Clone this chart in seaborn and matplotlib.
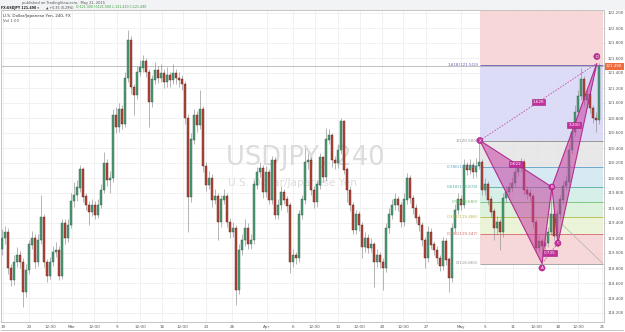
import matplotlib
matplotlib.use("Agg")
import matplotlib.pyplot as plt
import seaborn as sns
import numpy as np
import pandas as pd
from matplotlib.patches import Polygon

sns.set_theme(style="white")
plt.rcParams['font.family'] = ['DejaVu Sans']

# ---------------- data (USDJPY 240-minute candles) ----------------
opens = [119.05, 119.20, 119.28, 118.80, 118.64, 118.88, 118.97, 118.88, 118.48, 118.77,
         119.11, 119.20, 118.88, 119.17, 119.47, 118.88, 118.69, 118.88, 119.01, 119.04,
         118.69, 119.39, 119.20, 119.37, 119.69, 119.77, 119.87, 120.11, 119.75, 119.64,
         119.55, 119.64, 119.51, 119.64, 119.84, 120.20, 119.97, 120.00, 120.84, 120.68,
         120.91, 120.72, 121.33, 121.84, 121.21, 121.11, 121.41, 121.47, 121.55, 121.41,
         121.01, 121.31, 121.44, 121.33, 121.40, 121.28, 121.37, 121.31, 121.39, 121.33,
         121.31, 121.25, 120.80, 119.75, 120.51, 120.84, 120.71, 120.91, 120.16, 119.91,
         120.00, 119.71, 119.76, 119.41, 119.71, 119.75, 119.41, 119.28, 119.33, 118.51,
         119.04, 119.17, 119.33, 119.12, 119.17, 119.91, 120.08, 120.13, 119.81, 120.08,
         119.71, 120.24, 119.51, 119.64, 119.81, 119.71, 119.63, 118.88, 118.97, 118.93,
         119.51, 119.71, 120.21, 120.24, 119.84, 119.68, 119.91, 120.27, 120.01, 120.51,
         120.57, 120.24, 120.20, 120.37, 120.75, 120.11, 119.84, 119.64, 119.31, 119.51,
         119.37, 119.08, 119.20, 119.07, 119.11, 118.88, 118.97, 118.88, 118.80, 119.33,
         119.51, 119.64, 119.71, 119.64, 119.41, 119.71, 120.00, 119.73, 119.60, 119.47,
         119.37, 119.17, 118.93, 119.28, 119.11, 119.04, 118.93, 118.83, 119.15, 118.91,
         118.67, 119.33, 119.57, 119.71, 119.64, 120.17, 120.11, 120.17, 120.08, 120.16,
         120.21, 119.84, 119.91, 119.71, 119.55, 119.33, 119.41, 119.28, 119.73, 119.81,
         119.87, 119.93, 120.08, 120.13, 120.21, 119.84, 119.79, 119.76, 119.41, 119.07,
         119.15, 119.09, 119.13, 119.28, 119.51, 119.23, 119.52, 119.71, 119.89, 119.95,
         120.37, 120.61, 120.88, 121.09, 121.31, 121.04, 121.12, 120.93, 120.80, 120.77]
closes = [119.20, 119.28, 118.80, 118.64, 118.88, 118.97, 118.88, 118.48, 118.77, 119.11,
          119.20, 118.88, 119.17, 119.47, 118.88, 118.69, 118.88, 119.01, 119.04, 118.69,
          119.39, 119.20, 119.37, 119.69, 119.77, 119.87, 120.11, 119.75, 119.64, 119.55,
          119.64, 119.51, 119.64, 119.84, 120.20, 119.97, 120.00, 120.84, 120.68, 120.91,
          120.72, 121.33, 121.84, 121.21, 121.11, 121.41, 121.47, 121.55, 121.41, 121.01,
          121.31, 121.44, 121.33, 121.40, 121.28, 121.37, 121.31, 121.39, 121.33, 121.31,
          121.25, 120.80, 119.75, 120.51, 120.84, 120.71, 120.91, 120.16, 119.91, 120.00,
          119.71, 119.76, 119.41, 119.71, 119.75, 119.41, 119.28, 119.33, 118.51, 119.04,
          119.17, 119.33, 119.12, 119.17, 119.91, 120.08, 120.13, 119.81, 120.08, 119.71,
          120.24, 119.51, 119.64, 119.81, 119.71, 119.63, 118.88, 118.97, 118.93, 119.51,
          119.71, 120.21, 120.24, 119.84, 119.68, 119.91, 120.27, 120.01, 120.51, 120.57,
          120.24, 120.20, 120.37, 120.75, 120.11, 119.84, 119.64, 119.31, 119.51, 119.37,
          119.08, 119.20, 119.07, 119.11, 118.88, 118.97, 118.88, 118.80, 119.33, 119.51,
          119.64, 119.71, 119.64, 119.41, 119.71, 120.00, 119.73, 119.60, 119.47, 119.37,
          119.17, 118.93, 119.28, 119.11, 119.04, 118.93, 118.83, 119.15, 118.91, 118.67,
          119.33, 119.57, 119.71, 119.64, 120.17, 120.11, 120.17, 120.08, 120.16, 120.21,
          119.84, 119.91, 119.71, 119.55, 119.33, 119.41, 119.28, 119.73, 119.81, 119.87,
          119.93, 120.08, 120.13, 120.21, 119.84, 119.79, 119.76, 119.41, 119.07, 119.15,
          119.09, 119.13, 119.28, 119.51, 119.23, 119.52, 119.71, 119.89, 119.95, 120.37,
          120.61, 120.88, 121.09, 121.31, 121.04, 121.12, 120.93, 120.80, 120.77, 121.49]
highs = [119.32, 119.36, 119.33, 118.86, 118.98, 119.08, 119.03, 118.93, 118.85, 119.18,
         119.30, 119.25, 119.25, 119.77, 119.52, 118.92, 118.95, 119.10, 119.15, 119.10,
         119.45, 119.45, 119.45, 119.80, 119.95, 119.97, 120.17, 120.15, 119.80, 119.70,
         119.72, 119.70, 119.72, 119.92, 120.35, 120.25, 120.10, 120.92, 120.95, 121.00,
         120.97, 121.42, 121.98, 121.90, 121.25, 121.50, 121.58, 121.64, 121.60, 121.45,
         121.38, 121.55, 121.50, 121.52, 121.45, 121.48, 121.42, 121.52, 121.45, 121.42,
         121.38, 121.30, 120.85, 120.60, 120.92, 120.90, 121.17, 120.96, 120.22, 120.10,
         120.05, 119.85, 119.80, 119.78, 119.85, 119.80, 119.47, 119.42, 119.38, 119.12,
         119.26, 119.45, 119.40, 119.25, 119.98, 120.15, 120.22, 120.18, 120.16, 120.12,
         120.30, 120.28, 119.72, 119.90, 119.86, 119.76, 119.68, 119.05, 119.02, 119.58,
         119.78, 120.40, 120.33, 120.28, 119.90, 119.98, 120.33, 120.30, 120.67, 120.65,
         120.60, 120.30, 120.45, 120.80, 120.78, 120.15, 119.90, 119.68, 119.58, 119.56,
         119.42, 119.28, 119.25, 119.20, 119.15, 119.05, 119.02, 118.93, 119.40, 119.60,
         119.72, 119.80, 119.76, 119.68, 119.80, 120.07, 120.04, 119.78, 119.65, 119.52,
         119.42, 119.22, 119.36, 119.34, 119.16, 119.10, 118.98, 119.22, 119.20, 118.95,
         119.40, 119.65, 119.80, 119.78, 120.25, 120.22, 120.26, 120.22, 120.27, 120.49,
         120.26, 120.00, 119.96, 119.76, 119.60, 119.50, 119.46, 119.80, 119.90, 119.95,
         120.02, 120.16, 120.22, 120.27, 120.25, 119.90, 119.86, 119.80, 119.45, 119.24,
         119.20, 119.20, 119.35, 119.88, 119.56, 119.58, 119.78, 119.96, 120.04, 120.45,
         120.70, 120.97, 121.18, 121.47, 121.36, 121.22, 121.17, 120.98, 120.88, 121.54]
lows = [118.98, 119.12, 118.72, 118.56, 118.58, 118.82, 118.80, 118.28, 118.42, 118.72,
        119.05, 118.80, 118.83, 119.12, 118.82, 118.62, 118.65, 118.83, 118.95, 118.64,
        118.65, 119.12, 119.15, 119.33, 119.62, 119.70, 119.82, 119.68, 119.58, 119.37,
        119.50, 119.45, 119.47, 119.60, 119.80, 119.90, 119.80, 119.95, 120.60, 120.62,
        120.65, 120.68, 121.28, 121.12, 120.84, 121.05, 121.36, 121.42, 121.35, 120.68,
        120.95, 121.25, 121.27, 121.28, 121.20, 121.22, 121.22, 121.26, 121.25, 121.22,
        121.18, 120.72, 119.28, 119.68, 120.45, 120.62, 120.65, 120.08, 119.83, 119.85,
        119.62, 119.65, 119.17, 119.35, 119.65, 119.35, 119.20, 119.22, 118.31, 118.45,
        118.98, 119.10, 119.05, 119.06, 119.12, 119.86, 120.02, 119.74, 119.75, 119.65,
        119.66, 119.45, 119.45, 119.58, 119.65, 119.55, 118.73, 118.82, 118.86, 118.88,
        119.45, 119.66, 120.12, 119.78, 119.60, 119.62, 119.86, 119.95, 119.96, 120.45,
        120.15, 120.12, 120.14, 120.32, 120.05, 119.68, 119.56, 119.25, 119.26, 119.30,
        118.93, 119.02, 119.00, 119.02, 118.55, 118.82, 118.80, 118.51, 118.75, 119.27,
        119.45, 119.58, 119.56, 119.35, 119.36, 119.65, 119.67, 119.52, 119.40, 119.30,
        119.10, 118.80, 118.88, 119.05, 118.97, 118.86, 118.76, 118.78, 118.84, 118.48,
        118.62, 119.28, 119.52, 119.58, 119.60, 120.04, 120.05, 120.00, 120.02, 120.12,
        119.78, 119.78, 119.64, 119.48, 119.17, 119.26, 119.04, 119.22, 119.68, 119.76,
        119.82, 119.88, 120.03, 120.08, 119.78, 119.72, 119.70, 119.35, 119.00, 119.02,
        118.85, 119.03, 119.08, 119.24, 119.17, 119.13, 119.46, 119.65, 119.84, 119.90,
        120.32, 120.56, 120.84, 121.04, 120.97, 120.98, 120.87, 120.74, 120.61, 120.72]

last_price = 121.49
price_labels = ["118.200", "118.400", "118.600", "118.800", "119.000", "119.200", "119.400",
                "119.600", "119.800", "120.000", "120.200", "120.400", "120.600", "120.800",
                "121.000", "121.200", "121.400", "121.600", "121.800", "122.000", "122.200"]
date_tick_pos = [0.3, 9, 16.3, 23.3, 30.7, 38.3, 46, 53.3, 60.3, 68, 76.7, 88.3, 97, 104.3,
                 112, 119.3, 126.7, 133.7, 141.3, 153, 161, 170.3, 178.3, 185.3, 192, 200]
date_tick_labels = ["19", "23", "12:00", "Mar", "12:00", "9", "12:00", "16", "12:00", "23",
                    "26", "Apr", "6", "12:00", "13", "12:00", "20", "12:00", "27", "May",
                    "5", "11", "12:00", "18", "12:00", "21"]

# Fibonacci retracement (A low -> X high)
fib_ratios = ["0", "0.236", "0.382", "0.5", "0.618", "0.786", "1", "1.618", "2.618"]
fib_prices = [118.860, 119.247, 119.486, 119.680, 119.874, 120.149, 120.500, 121.510, 123.150]
fib_span = [159.3, 200.3]
fib_band_colors = ["#f6d2d2", "#e8f3d2", "#d8f0d6", "#cfeee6", "#d0e7f3", "#e4e4e6",
                   "#d6d6f5", "#f6d0d0"]
fib_line_colors = ["#9a9a9a", "#d46a6a", "#b8b848", "#6cbf6c", "#4fae9c", "#5f9fc9",
                   "#8a8a8a", "#6a5cb0", "#d46a6a"]

# XABCD harmonic pattern
pat_names = ["X", "A", "B", "C", "D"]
pat_idx = [159.3, 180.0, 183.3, 185.3, 198.3]
pat_price = [120.50, 118.86, 119.88, 119.13, 121.53]
ratio_texts = ["0.622", "0.735", "3.200", "1.628"]
proj_idx = [186.0, 200.3]
proj_price = [119.41, 118.86]

# ---------------- figure ----------------
W, H = 625, 332
fig = plt.figure(figsize=(W / 100, H / 100), dpi=100)
fig.patch.set_facecolor("white")

def px(x, y):
    return x / W, 1 - y / H

# header band
fig.patches.append(plt.Rectangle((0, 1 - 10 / H), 1, 10 / H, transform=fig.transFigure,
                                 facecolor="#f1f3f5", edgecolor="none", zorder=0))

ax = fig.add_axes([1 / W, 10 / H, 603 / W, 312 / H])
ax.set_facecolor("white")
ax.set_xlim(-0.333, 200.67)
ax.set_ylim(118.08, 122.24)

price_vals = [float(s) for s in price_labels]
for v in price_vals:
    ax.axhline(v, color="#ececec", lw=0.5, zorder=0)
for t in date_tick_pos:
    ax.axvline(t, color="#ececec", lw=0.5, zorder=0)

# watermark
ax.text(0.504, 0.526, "USDJPY, 240", transform=ax.transAxes, fontsize=18.5,
        color="#dcdcdc", ha="center", va="center", zorder=0.5)
ax.text(0.483, 0.446, "U.S. Dollar/Japanese Yen", transform=ax.transAxes, fontsize=7.6,
        color="#dcdcdc", ha="center", va="center", zorder=0.5)

# fib bands and levels
for k in range(len(fib_prices) - 1):
    ax.fill_between(fib_span, fib_prices[k], fib_prices[k + 1], color=fib_band_colors[k],
                    alpha=0.85, lw=0, zorder=1)
for k, (r, p) in enumerate(zip(fib_ratios, fib_prices)):
    ax.hlines(p, fib_span[0], fib_span[1], color=fib_line_colors[k], lw=0.6, zorder=1.5)
    if p < 122.2:
        ax.text(fib_span[0] - 0.4, p, f"{r}({p:.3f})", fontsize=3.0,
                color=fib_line_colors[k], ha="right", va="center", zorder=6)

# current price line
ax.axhline(last_price, color="#a8a8a8", lw=0.5, zorder=1.6)

# candles
df = pd.DataFrame(dict(o=opens, h=highs, l=lows, c=closes))
df["i"] = np.arange(len(df))
up = df.c >= df.o
ax.vlines(df.i, df.l, df.h, color="#8c8c8c", lw=0.45, zorder=3)
ax.bar(df.i[up], (df.c - df.o)[up] + 0.004, bottom=df.o[up], width=0.72,
       color="#4f9c78", edgecolor="#2b5c44", lw=0.3, zorder=4)
ax.bar(df.i[~up], (df.o - df.c)[~up] + 0.004, bottom=df.c[~up], width=0.72,
       color="#b5483a", edgecolor="#5e1c14", lw=0.3, zorder=4)

# harmonic pattern
P = list(zip(pat_idx, pat_price))
pink_face = "#c73fa3"
pink_edge = "#b32c8e"
for tri in ([P[0], P[1], P[2]], [P[2], P[3], P[4]]):
    ax.add_patch(Polygon(tri, closed=True, facecolor=pink_face, alpha=0.55,
                         edgecolor="none", zorder=5))
    ax.add_patch(Polygon(tri, closed=True, facecolor="none", edgecolor=pink_edge,
                         lw=0.8, zorder=5.2))
for a, b in ((P[1], P[3]), (P[0], P[4])):
    ax.plot([a[0], b[0]], [a[1], b[1]], color="#c05aa8", lw=0.6, ls=(0, (2, 1.5)), zorder=5.3)
ax.plot(proj_idx, proj_price, color="#b0b0b0", lw=0.5, zorder=5.1)

for (a, b), t in zip(((P[0], P[2]), (P[1], P[3]), (P[2], P[4]), (P[0], P[4])), ratio_texts):
    ax.text((a[0] + b[0]) / 2, (a[1] + b[1]) / 2, t, fontsize=3.0, color="white",
            ha="center", va="center", zorder=7,
            bbox=dict(boxstyle="square,pad=0.25", fc="#c2309c", ec="#a0207f", lw=0.4))
name_offsets = [0, -0.06, 0, 0, 0.09]
for (x, y), n, off in zip(P, pat_names, name_offsets):
    ax.text(x, y + off, n, fontsize=3.0, color="white", ha="center", va="center", zorder=8,
            bbox=dict(boxstyle="circle,pad=0.25", fc="#c2309c", ec="#a0207f", lw=0.4))

# axes styling
for s in ax.spines.values():
    s.set_color("#c4c4c4")
    s.set_linewidth(0.7)
ax.yaxis.tick_right()
ax.set_yticks(price_vals)
ax.set_yticklabels(price_labels)
ax.set_xticks(date_tick_pos)
ax.set_xticklabels(date_tick_labels)
ax.tick_params(axis="y", length=1.0, width=0.4, color="#b0b0b0", pad=1.2,
               labelsize=2.8, labelcolor="#555555")
ax.tick_params(axis="x", length=0, pad=2.2, labelsize=3.0, labelcolor="#555555")

# current price tag on axis
ax.text(1.0 + 2 / 603, last_price, f"{last_price:.3f}", transform=ax.get_yaxis_transform(),
        fontsize=2.8, color="white", ha="left", va="center", zorder=10,
        bbox=dict(boxstyle="square,pad=0.35", fc="#ef6a3c", ec="none"), clip_on=False)

# bottom frame line
fig.lines.append(plt.Line2D([1 / W, 1 - 2 / W], [2 / H, 2 / H], transform=fig.transFigure,
                            color="#c4c4c4", lw=0.7))

# header texts
fig.text(*px(22, 3), "published on TradingView.com,  May 21, 2015", fontsize=2.6,
         color="#555555", ha="left", va="center")
fig.text(*px(1, 7.5), "FX:USDJPY 121.490 \u25be", fontsize=2.3, color="#222222",
         ha="left", va="center", fontweight="bold")
fig.text(*px(46, 7.5), "\u25b2 +0.35 (0.29%)", fontsize=2.3, color="#444444",
         ha="left", va="center")
fig.text(*px(76, 7.5), "O:121.300 H:121.500 L:121.410 C:121.490", fontsize=2.3,
         color="#3a9a3a", ha="left", va="center")
fig.text(*px(3, 15.5), "U.S. Dollar/Japanese Yen, 240, FX", fontsize=3.0, color="#333333",
         ha="left", va="center")
fig.text(*px(3, 20.5), "Vol 1.00", fontsize=2.8, color="#555555", ha="left", va="center")

fig.savefig("out.png", dpi=100)
